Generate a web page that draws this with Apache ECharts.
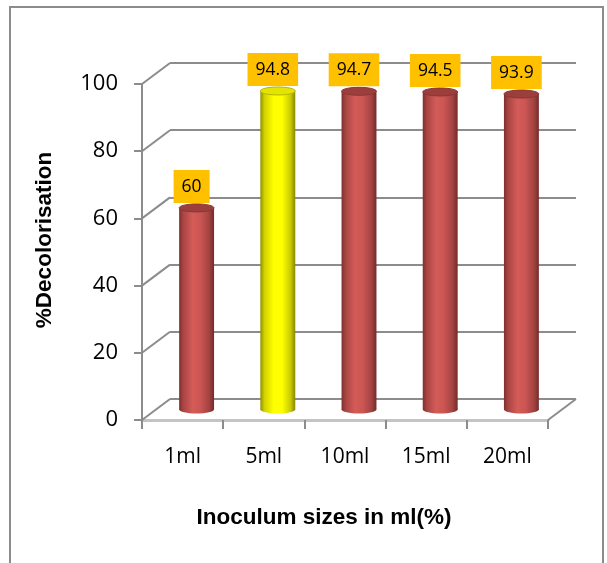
<!DOCTYPE html>
<html>
<head>
<meta charset="utf-8">
<script src="https://cdn.jsdelivr.net/npm/echarts@6/dist/echarts.min.js"></script>
<style>
  html, body { margin: 0; padding: 0; background: #ffffff; }
  #chart { width: 607px; height: 563px; }
</style>
</head>
<body>
<div id="chart"></div>
<script>
// Inoculum size vs. percentage decolorisation
const categories = ['1ml', '5ml', '10ml', '15ml', '20ml'];
const decolorisation = [60, 94.8, 94.7, 94.5, 93.9];
const yTicks = [0, 20, 40, 60, 80, 100];
const highlightCategory = '5ml';

const yMin = 0, yMax = 100, yStep = 20;

// Layout of the pseudo-3D box: front plane plus a depth offset to the back wall
const FRONT = { left: 142, top: 84, width: 406, height: 336 };
const DEPTH = { dx: 28, dy: -21 };
const BACK = { left: FRONT.left + DEPTH.dx, top: FRONT.top + DEPTH.dy, width: FRONT.width, height: FRONT.height };
const MID = { left: FRONT.left + DEPTH.dx / 2, top: FRONT.top + DEPTH.dy / 2, width: FRONT.width, height: FRONT.height };

const GRID_GRAY = '#8c8c8c';
const FONT = '"Open Sans", "Liberation Sans", Arial, sans-serif';
const TITLE_FONT = '"Liberation Sans", Arial, sans-serif';

const cylinderStyles = {
  normal: {
    body: [
      { offset: 0, color: '#7d302e' },
      { offset: 0.12, color: '#a94543' },
      { offset: 0.38, color: '#d35b58' },
      { offset: 0.6, color: '#cc5653' },
      { offset: 0.86, color: '#a24341' },
      { offset: 1, color: '#722b29' }
    ],
    top: '#9c3f3c',
    rim: '#8a3633'
  },
  highlight: {
    body: [
      { offset: 0, color: '#8f8f00' },
      { offset: 0.12, color: '#d2d200' },
      { offset: 0.38, color: '#ffff00' },
      { offset: 0.62, color: '#ffff00' },
      { offset: 0.86, color: '#cccc00' },
      { offset: 1, color: '#868600' }
    ],
    top: '#e4e400',
    rim: '#b5b500'
  }
};

function renderCylinder(params, api) {
  const i = api.value(0);
  const v = api.value(1);
  const top = api.coord([i, v]);
  const base = api.coord([i, 0]);
  const band = api.size([1, 0])[0];
  const w = band * 0.43;
  const rx = w / 2;
  const ry = 4;
  const st = cylinderStyles[categories[i] === highlightCategory ? 'highlight' : 'normal'];
  const grad = new echarts.graphic.LinearGradient(0, 0, 1, 0, st.body);
  return {
    type: 'group',
    children: [
      { type: 'ellipse', shape: { cx: base[0], cy: base[1], rx: rx, ry: ry }, style: { fill: grad } },
      { type: 'rect', shape: { x: base[0] - rx, y: top[1], width: w, height: base[1] - top[1] }, style: { fill: grad } },
      { type: 'ellipse', shape: { cx: top[0], cy: top[1], rx: rx, ry: ry }, style: { fill: st.top, stroke: st.rim, lineWidth: 1 } },
      {
        type: 'text',
        z2: 10,
        style: {
          text: String(v),
          x: top[0] - 5,
          y: top[1] - ry - 1,
          align: 'center',
          verticalAlign: 'bottom',
          fill: '#000000',
          font: '17.5px ' + FONT,
          lineHeight: 20,
          backgroundColor: '#FFC000',
          padding: [7, 8, 6, 8]
        }
      }
    ]
  };
}

// Side-wall lines joining the front axis ticks to the back-wall gridlines
function renderWallLine(params, api) {
  const p = api.coord([0, api.value(1)]);
  const half = api.size([1, 0])[0] / 2;
  const x0 = p[0] - half;
  const y0 = p[1];
  return {
    type: 'line',
    shape: { x1: x0, y1: y0, x2: x0 + DEPTH.dx, y2: y0 + DEPTH.dy },
    style: { stroke: GRID_GRAY, lineWidth: 2 }
  };
}

// Right edge of the floor
function renderFloorEdge(params, api) {
  const p = api.coord([categories.length - 1, 0]);
  const half = api.size([1, 0])[0] / 2;
  const x0 = p[0] + half;
  const y0 = p[1];
  return {
    type: 'line',
    shape: { x1: x0, y1: y0, x2: x0 + DEPTH.dx, y2: y0 + DEPTH.dy },
    style: { stroke: GRID_GRAY, lineWidth: 2 }
  };
}

const chart = echarts.init(document.getElementById('chart'), null, { renderer: 'canvas' });

chart.setOption({
  animation: false,
  backgroundColor: '#ffffff',
  grid: [
    Object.assign({ containLabel: false }, FRONT),
    Object.assign({ containLabel: false }, BACK),
    Object.assign({ containLabel: false }, MID)
  ],
  xAxis: [
    {
      gridIndex: 0,
      type: 'category',
      data: categories,
      boundaryGap: true,
      axisLine: { show: true, lineStyle: { color: '#c4c4c4', width: 3 } },
      axisTick: { show: true, length: 9, inside: false, lineStyle: { color: GRID_GRAY, width: 2 } },
      axisLabel: { color: '#000000', fontSize: 21, fontFamily: FONT, margin: 27 },
      splitLine: { show: false }
    },
    { gridIndex: 1, type: 'category', data: categories, show: false },
    { gridIndex: 2, type: 'category', data: categories, show: false }
  ],
  yAxis: [
    {
      gridIndex: 0,
      type: 'value',
      min: yMin, max: yMax, interval: yStep,
      axisLine: { show: true, lineStyle: { color: GRID_GRAY, width: 2 } },
      axisTick: { show: true, length: 8, inside: false, lineStyle: { color: GRID_GRAY, width: 2 } },
      axisLabel: { color: '#000000', fontSize: 22, fontFamily: FONT, margin: 24 },
      splitLine: { show: false }
    },
    {
      gridIndex: 1,
      type: 'value',
      min: yMin, max: yMax, interval: yStep,
      axisLine: { show: false },
      axisTick: { show: false },
      axisLabel: { show: false },
      splitLine: { show: true, lineStyle: { color: GRID_GRAY, width: 2 } }
    },
    {
      gridIndex: 2,
      type: 'value',
      min: yMin, max: yMax, interval: yStep,
      show: false
    }
  ],
  series: [
    {
      type: 'custom',
      xAxisIndex: 0, yAxisIndex: 0,
      renderItem: renderWallLine,
      data: yTicks.map(function (t) { return [0, t]; }),
      silent: true,
      z: 1
    },
    {
      type: 'custom',
      xAxisIndex: 0, yAxisIndex: 0,
      renderItem: renderFloorEdge,
      data: [[categories.length - 1, yMin]],
      silent: true,
      z: 1
    },
    {
      type: 'custom',
      xAxisIndex: 2, yAxisIndex: 2,
      renderItem: renderCylinder,
      encode: { x: 0, y: 1 },
      data: decolorisation.map(function (v, i) { return [i, v]; }),
      z: 5
    }
  ],
  graphic: [
    {
      type: 'rect',
      shape: { x: 10, y: 7, width: 593, height: 620 },
      style: { fill: 'none', stroke: GRID_GRAY, lineWidth: 2 },
      silent: true
    },
    {
      type: 'text',
      x: 45, y: 240,
      rotation: Math.PI / 2,
      style: {
        text: '%Decolorisation',
        align: 'center',
        verticalAlign: 'middle',
        fill: '#000000',
        font: 'bold 22.5px ' + TITLE_FONT
      }
    },
    {
      type: 'text',
      x: 324, y: 518,
      style: {
        text: 'Inoculum sizes in ml(%)',
        align: 'center',
        verticalAlign: 'middle',
        fill: '#000000',
        font: 'bold 22.5px ' + TITLE_FONT
      }
    }
  ]
});
</script>
</body>
</html>
